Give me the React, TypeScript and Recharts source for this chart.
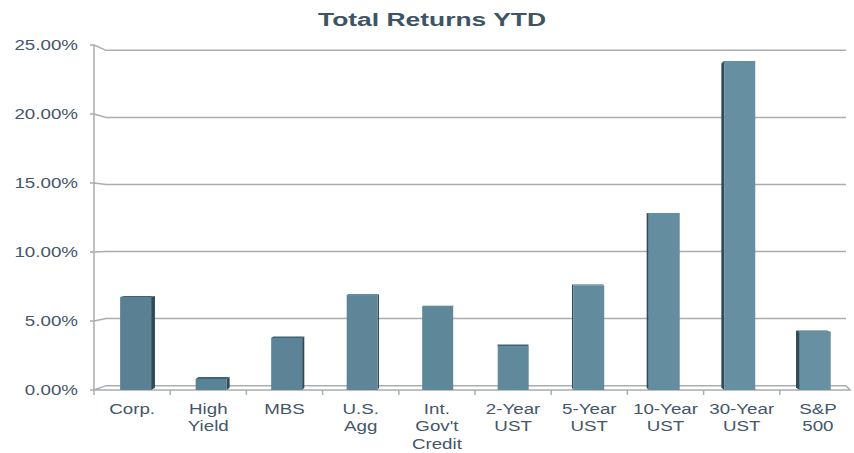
import React from "react";
import { BarChart, Bar, XAxis, YAxis, CartesianGrid } from "recharts";

const categories = [
  "Corp.",
  "High\nYield",
  "MBS",
  "U.S.\nAgg",
  "Int.\nGov't\nCredit",
  "2-Year\nUST",
  "5-Year\nUST",
  "10-Year\nUST",
  "30-Year\nUST",
  "S&P\n500",
];
const returnsPct = [6.74, 0.8, 3.77, 6.88, 6.04, 3.19, 7.59, 12.83, 23.84, 4.22];
const yTicks = [0, 5, 10, 15, 20, 25];
const title = "Total Returns YTD";

const data = categories.map((c, i) => ({ name: c, value: returnsPct[i] }));

const CHART_W = 862;
const CHART_H = 453;
const MARGIN = { top: 45, right: 6, bottom: 0, left: 0 };
const Y_W = 94;
const X_H = 63;
const PLOT_W = CHART_W - MARGIN.left - MARGIN.right - Y_W;
const BAND = PLOT_W / categories.length;
const EYE_Y = 235;
const K = 0.028;
const CENTER_X = 480;

const TEXT_COLOR = "#44566A";
const GRID_COLOR = "#A9ADB1";

const lerp = (a: number, b: number, t: number) => Math.round(a + (b - a) * t);
const faceColor = (cx: number) => {
  const t = Math.max(0, Math.min(1, (cx - 100) / 740));
  return `rgb(${lerp(88, 104, t)},${lerp(127, 145, t)},${lerp(146, 164, t)})`;
};

const Bar3D = (p: any) => {
  const { x, y, width, height } = p;
  if (!height || height <= 0) return null;
  const c = x + width / 2;
  const shift = (CENTER_X - c) * 0.009;
  const fx = x + shift;
  const s = (CENTER_X - c) * 0.011;
  const top = y;
  const base = y + height;
  const dTop = -(top - EYE_Y) * K * 0.5;
  const dBase = -(base - EYE_Y) * K * 0.5;
  let side: string | null = null;
  if (Math.abs(s) > 0.5) {
    const ex = s > 0 ? fx + width : fx;
    side = `M${ex},${top} L${ex + s},${top + dTop} L${ex + s},${base + dBase} L${ex},${base} Z`;
  }
  const topPath = `M${fx},${top} L${fx + s},${top + dTop} L${fx + width + s},${top + dTop} L${fx + width},${top} Z`;
  return (
    <g>
      {side && <path d={side} fill="#2F4A58" />}
      <path d={topPath} fill="#3F6375" />
      <rect x={fx} y={top} width={width} height={height} fill={faceColor(c)} />
    </g>
  );
};

const gridLine = (p: any) => {
  const { x1, y1, x2, key } = p;
  const yb = y1 + (EYE_Y - y1) * K;
  const bx1 = x1 + 12;
  const bx2 = x2 - 10;
  if (y1 > 380) {
    return (
      <path
        key={key}
        d={`M${x1},${y1} L${bx1},${yb} L${bx2},${yb} L${x2 - 6},${y1} L${x1},${y1}`}
        fill="none"
        stroke={GRID_COLOR}
        strokeWidth={1.5}
      />
    );
  }
  return (
    <path
      key={key}
      d={`M${x1},${y1} L${bx1},${yb} L${bx2},${yb}`}
      fill="none"
      stroke={GRID_COLOR}
      strokeWidth={1.5}
    />
  );
};

const YTick = (p: any) => {
  const { x, y, payload } = p;
  return (
    <g transform={`translate(${x},${y}) scale(1.25,1)`}>
      <text
        x={0}
        y={0}
        dy="0.35em"
        textAnchor="end"
        fill={TEXT_COLOR}
        fontSize={15}
        fontFamily="'Liberation Sans', Arial, sans-serif"
      >
        {Number(payload.value).toFixed(2) + "%"}
      </text>
    </g>
  );
};

const XTick = (p: any) => {
  const { x, y, payload } = p;
  const lines = String(payload.value).split("\n");
  const bx = x - BAND / 2;
  return (
    <g>
      <line x1={bx} y1={y} x2={bx} y2={y + 5} stroke={GRID_COLOR} strokeWidth={1.5} />
      <g transform={`translate(${x},${y}) scale(1.25,1)`}>
        {lines.map((l, i) => (
          <text
            key={i}
            x={0}
            y={24 + i * 17.5}
            textAnchor="middle"
            fill={TEXT_COLOR}
            fontSize={15}
            fontFamily="'Liberation Sans', Arial, sans-serif"
          >
            {l}
          </text>
        ))}
      </g>
    </g>
  );
};

export default function App() {
  return (
    <div
      style={{
        position: "absolute",
        left: 0,
        top: 0,
        width: 854,
        height: 453,
        overflow: "hidden",
        background: "#fff",
      }}
    >
      <svg
        width={854}
        height={40}
        style={{ position: "absolute", left: 0, top: 0, zIndex: 2 }}
      >
        <text
          x={432}
          y={25.5}
          textAnchor="middle"
          fill="#3E5464"
          fontSize={18}
          fontWeight="bold"
          fontFamily="'Liberation Sans', Arial, sans-serif"
          textLength={228}
          lengthAdjust="spacingAndGlyphs"
        >
          {title}
        </text>
      </svg>
      <BarChart width={CHART_W} height={CHART_H} data={data} margin={MARGIN} barSize={31}>
        <CartesianGrid vertical={false} horizontal={gridLine} />
        <XAxis
          dataKey="name"
          interval={0}
          height={X_H}
          axisLine={false}
          tickLine={false}
          tickSize={0}
          tickMargin={0}
          tick={<XTick />}
        />
        <YAxis
          width={Y_W}
          domain={[0, 25]}
          ticks={yTicks}
          allowDataOverflow
          axisLine={{ stroke: GRID_COLOR, strokeWidth: 1.5 }}
          tickLine={{ stroke: GRID_COLOR, strokeWidth: 1.5 }}
          tickSize={4}
          tickMargin={12}
          tick={<YTick />}
        />
        <Bar dataKey="value" isAnimationActive={false} shape={<Bar3D />} />
      </BarChart>
    </div>
  );
}
